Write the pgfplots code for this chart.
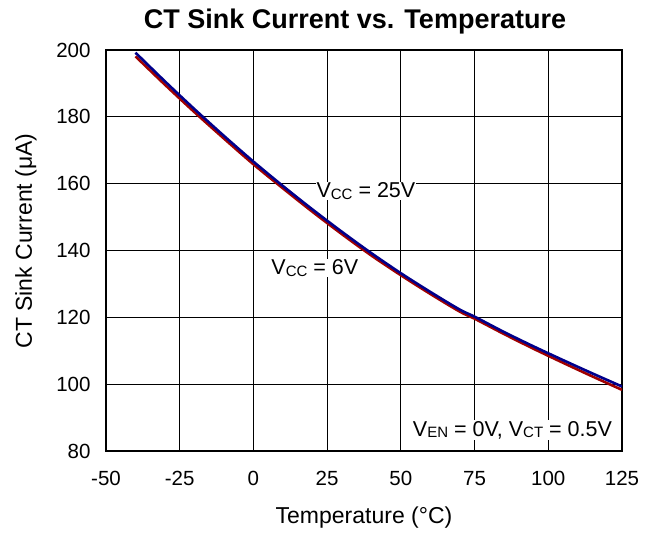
\documentclass[border=0pt]{standalone}
\usepackage{fontspec}
\setmainfont{Liberation Sans}
\usepackage{pgfplots}
\pgfplotsset{compat=1.18}
\definecolor{cblue}{RGB}{0,0,140}
\definecolor{cred}{RGB}{160,0,0}
\newcommand{\sub}[1]{{\fontsize{15}{15}\selectfont\raisebox{-1.5pt}{#1}}}
\pgfplotstableread{
x y
-40 199.2
-30 190.6
-20 182.3
-10 174.3
0 166.6
10 159.3
20 152.3
30 145.6
40 139.2
50 133.2
60 127.6
70 122.3
75 120.2
85 115.6
95 111.3
105 107.2
115 103.2
125 99.3
}\vcctwentyfive
\pgfplotstableread{
x y
-40 198.1
-30 189.6
-20 181.4
-10 173.5
0 165.8
10 158.6
20 151.6
30 144.9
40 138.5
50 132.6
60 127.0
70 121.7
75 119.6
85 115.0
95 110.6
105 106.4
115 102.3
125 98.3
}\vccsix
\begin{document}
\begin{tikzpicture}[x=1pt,y=1pt]
\path[use as bounding box] (-106,-85) rectangle (550,451);
\begin{axis}[at={(0,0)}, anchor=south west, scale only axis,
  width=516pt, height=401pt,
  xmin=-50, xmax=125, ymin=80, ymax=200,
  xtick={-50,-25,0,25,50,75,100,125},
  xticklabels={-50,-25,0,25,50,75,100,125},
  ytick={80,100,120,140,160,180,200},
  yticklabels={80,100,120,140,160,180,200},
  grid=major, major grid style={black, line width=0.8pt},
  axis line style={black, line width=1.3pt},
  major tick length=0pt,
  tick label style={font=\fontsize{20.5}{24}\selectfont},
  xticklabel style={yshift=-17pt},
  yticklabel style={xshift=-12pt},
  clip=true]
\node[fill=white, anchor=west, inner sep=1pt, font=\fontsize{21.5}{24}\selectfont] at (axis cs:21.0,157.8) {V\sub{CC} = 25V};
\node[fill=white, anchor=west, inner sep=1pt, font=\fontsize{21.5}{24}\selectfont] at (axis cs:5.7,134.8) {V\sub{CC} = 6V};
\node[fill=white, anchor=east, inner sep=1pt, font=\fontsize{21.5}{24}\selectfont] at (axis cs:122,86.3) {V\sub{EN} = 0V, V\sub{CT} = 0.5V};
\addplot[cred, line width=2.6pt, no marks, smooth] table[x=x,y=y] {\vccsix};
\addplot[cblue, line width=2.6pt, no marks, smooth] table[x=x,y=y] {\vcctwentyfive};
\end{axis}
\node[font=\bfseries\fontsize{27}{30}\selectfont] at (249,429) {CT Sink Current vs. Temperature};
\node[font=\fontsize{23}{26}\selectfont] at (258,-67) {Temperature (°C)};
\node[font=\fontsize{23}{26}\selectfont, rotate=90] at (-80,210) {CT Sink Current (μA)};
\end{tikzpicture}
\end{document}
